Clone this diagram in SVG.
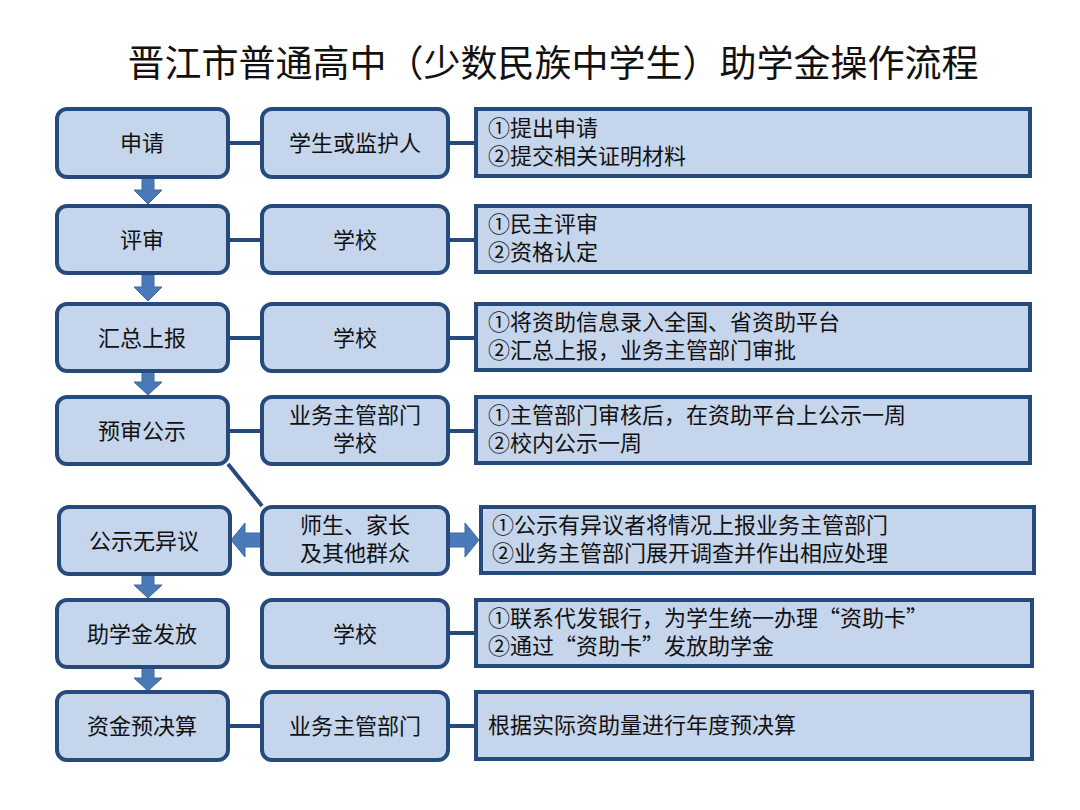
<svg xmlns="http://www.w3.org/2000/svg" width="1080" height="810" viewBox="0 0 1080 810">
<style>
.b{fill:#c5d5ec;stroke:#264a7c;stroke-width:4}
.t{font-family:"Noto Sans CJK SC",sans-serif;font-size:22px;fill:#111}
.c{text-anchor:middle}
.ln{stroke:#264a7c;stroke-width:4;fill:none}
.ar{fill:#4a7ab8;stroke:#3a68a4;stroke-width:1}
</style>
<rect width="1080" height="810" fill="#fff"/>
<text x="553" y="77" class="t c" style="font-size:37px">晋江市普通高中（少数民族中学生）助学金操作流程</text>
<g id="connectors">
<line class="ln" x1="228" y1="143" x2="262" y2="143"/><line class="ln" x1="448" y1="143" x2="476" y2="143"/>
<line class="ln" x1="228" y1="240" x2="262" y2="240"/><line class="ln" x1="448" y1="240" x2="476" y2="240"/>
<line class="ln" x1="228" y1="338" x2="262" y2="338"/><line class="ln" x1="448" y1="338" x2="476" y2="338"/>
<line class="ln" x1="228" y1="431" x2="262" y2="431"/><line class="ln" x1="448" y1="431" x2="476" y2="431"/>
<line class="ln" x1="228" y1="464" x2="262" y2="506"/>
<line class="ln" x1="448" y1="633" x2="476" y2="633"/>
<line class="ln" x1="228" y1="726" x2="262" y2="726"/><line class="ln" x1="448" y1="726" x2="476" y2="726"/>
<path class="ar" d="M142 178h12v12h8l-14 14l-14-14h8z"/>
<path class="ar" d="M142 275h12v12h8l-14 14l-14-14h8z"/>
<path class="ar" d="M142 372h12v10h8l-14 13l-14-13h8z"/>
<path class="ar" d="M142 575h12v10h8l-14 13l-14-13h8z"/>
<path class="ar" d="M142 668h12v10h8l-14 13l-14-13h8z"/>
<path class="ar" d="M261 533v14h-16v10l-14-17l14-17v10z"/>
<path class="ar" d="M449 533v14h16v10l14-17l-14-17v10z"/>
</g>
<g id="n1"><rect class="b" x="57" y="109" width="171" height="68" rx="10"/><text x="142" y="151" class="t c">申请</text></g>
<g id="m1"><rect class="b" x="262" y="109" width="186" height="68" rx="10"/><text x="355" y="151" class="t c">学生或监护人</text></g>
<g id="r1"><rect class="b" x="476" y="109" width="554" height="67"/><text x="488" y="136" class="t">①提出申请</text><text x="488" y="164" class="t">②提交相关证明材料</text></g>
<g id="n2"><rect class="b" x="57" y="206" width="171" height="67" rx="10"/><text x="142" y="248" class="t c">评审</text></g>
<g id="m2"><rect class="b" x="262" y="206" width="186" height="67" rx="10"/><text x="355" y="248" class="t c">学校</text></g>
<g id="r2"><rect class="b" x="476" y="206" width="554" height="66"/><text x="488" y="232" class="t">①民主评审</text><text x="488" y="260" class="t">②资格认定</text></g>
<g id="n3"><rect class="b" x="57" y="304" width="171" height="67" rx="10"/><text x="142" y="346" class="t c">汇总上报</text></g>
<g id="m3"><rect class="b" x="262" y="304" width="186" height="67" rx="10"/><text x="355" y="346" class="t c">学校</text></g>
<g id="r3"><rect class="b" x="476" y="304" width="554" height="66"/><text x="488" y="330" class="t">①将资助信息录入全国、省资助平台</text><text x="488" y="358" class="t">②汇总上报，业务主管部门审批</text></g>
<g id="n4"><rect class="b" x="57" y="397" width="171" height="67" rx="10"/><text x="142" y="439" class="t c">预审公示</text></g>
<g id="m4"><rect class="b" x="262" y="397" width="186" height="67" rx="10"/><text x="355" y="423" class="t c">业务主管部门</text><text x="355" y="451" class="t c">学校</text></g>
<g id="r4"><rect class="b" x="476" y="397" width="554" height="66"/><text x="488" y="423" class="t">①主管部门审核后，在资助平台上公示一周</text><text x="488" y="451" class="t">②校内公示一周</text></g>
<g id="n5"><rect class="b" x="59" y="507" width="171" height="67" rx="10"/><text x="144" y="549" class="t c">公示无异议</text></g>
<g id="m5"><rect class="b" x="262" y="507" width="186" height="67" rx="10"/><text x="355" y="533" class="t c">师生、家长</text><text x="355" y="561" class="t c">及其他群众</text></g>
<g id="r5"><rect class="b" x="481" y="507" width="553" height="66"/><text x="492" y="533" class="t">①公示有异议者将情况上报业务主管部门</text><text x="492" y="561" class="t">②业务主管部门展开调查并作出相应处理</text></g>
<g id="n6"><rect class="b" x="57" y="600" width="171" height="67" rx="10"/><text x="142" y="642" class="t c">助学金发放</text></g>
<g id="m6"><rect class="b" x="262" y="600" width="186" height="67" rx="10"/><text x="355" y="642" class="t c">学校</text></g>
<g id="r6"><rect class="b" x="476" y="600" width="556" height="66"/><text x="488" y="626" class="t">①联系代发银行，为学生统一办理“资助卡”</text><text x="488" y="654" class="t">②通过“资助卡”发放助学金</text></g>
<g id="n7"><rect class="b" x="57" y="692" width="171" height="68" rx="10"/><text x="142" y="734" class="t c">资金预决算</text></g>
<g id="m7"><rect class="b" x="262" y="692" width="186" height="68" rx="10"/><text x="355" y="734" class="t c">业务主管部门</text></g>
<g id="r7"><rect class="b" x="476" y="692" width="556" height="67"/><text x="488" y="733" class="t">根据实际资助量进行年度预决算</text></g>
</svg>
